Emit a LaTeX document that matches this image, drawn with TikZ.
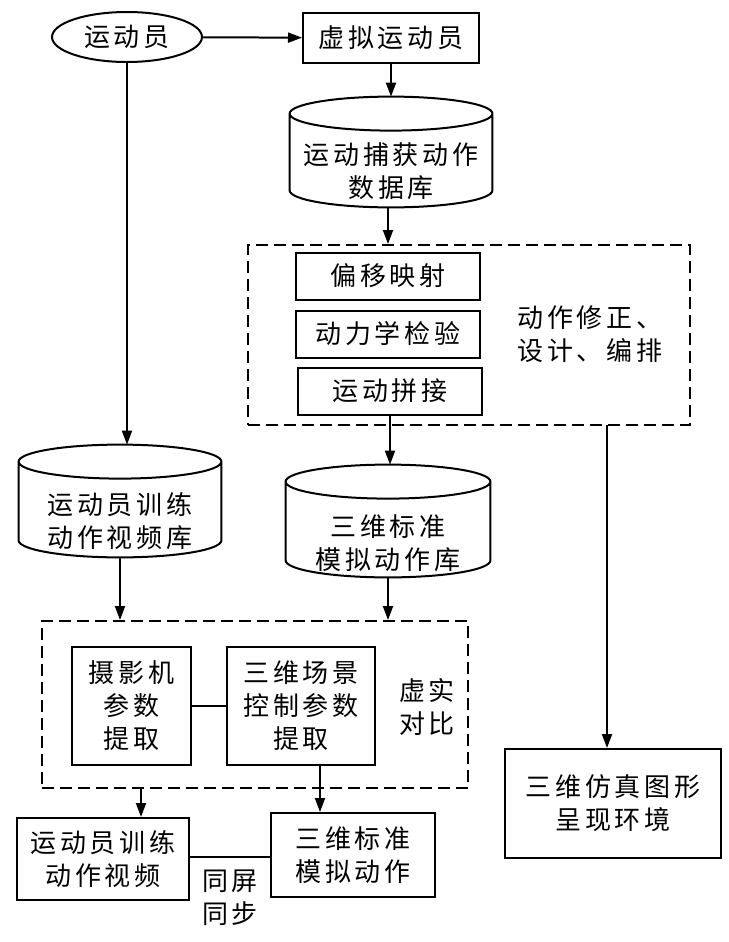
\documentclass[tikz,border=0pt]{standalone}
\usepackage{fontspec}
\setmainfont{Noto Sans CJK SC}[LetterSpace=15]
\usetikzlibrary{positioning,fit,calc,shapes.geometric,arrows.meta}
\tikzset{box/.style={draw, line width=1pt, align=center, inner sep=0pt}}
\tikzset{dbase/.style={rectangle, inner sep=0pt}}
\tikzset{dtext/.style={align=center, inner sep=0pt}}
\tikzset{grp/.style={draw, line width=1pt, dash pattern=on 6pt off 3pt, inner sep=0pt}}
\tikzset{arr/.style={draw, line width=1pt, -{Triangle[length=7pt,width=5pt]}}}
\tikzset{lnk/.style={draw, line width=1pt}}
% cylinder outline inside the bounds of a node
\newcommand{\dbdraw}[1]{%
  \draw[line width=1pt] let \p1=(#1.north west), \p2=(#1.south east), \n1={(\x2-\x1)/2} in
    (\x1,\y1-8.5pt) -- (\x1,\y2+8.5pt)
    arc[start angle=180, end angle=360, x radius={\n1*1pt}, y radius=8.5pt]
    -- (\x2,\y1-8.5pt)
    arc[start angle=0, end angle=360, x radius={\n1*1pt}, y radius=8.5pt];}
\begin{document}
\begin{tikzpicture}[x=0.5pt, y=-0.5pt, font=\fontsize{13pt}{16.5pt}\selectfont]
	\useasboundingbox (0,0) rectangle (728,942);
	% top
	\node[box, ellipse, minimum width=75pt, minimum height=25pt] (ath) at (127,37) {运动员};
	\node[box, minimum width=88pt, minimum height=25pt] (virt) at (391,38) {虚拟运动员};
	\node[dbase, minimum width=101pt, minimum height=55pt] (mocap) at (391,152) {};
	\dbdraw{mocap}
	\node[dtext] (mocapT) at ($(mocap.center)+(0,19)$) {运动捕获动作\\数据库};
	%
	\node[grp, minimum width=221pt, minimum height=90pt] (edit) at (469,335) {};
	\node[box, minimum width=92pt, minimum height=23.5pt] (offs) at (388,276) {偏移映射};
	\node[box, minimum width=92pt, minimum height=23.5pt] (dyn) at (388,334) {动力学检验};
	\node[box, minimum width=92pt, minimum height=23.5pt] (splice) at (390,391) {运动拼接};
	\node[dtext, align=left] (editL) at (590,334) {动作修正、\\设计、编排};
	%
	\node[dbase, minimum width=101pt, minimum height=56pt] (vidb) at (120,501) {};
	\dbdraw{vidb}
	\node[dtext] (vidbT) at ($(vidb.center)+(0,20)$) {运动员训练\\动作视频库};
	\node[dbase, minimum width=102pt, minimum height=56pt] (stdb) at (388,521) {};
	\dbdraw{stdb}
	\node[dtext] (stdbT) at ($(stdb.center)+(0,22)$) {三维标准\\模拟动作库};
	%
	\node[grp, minimum width=213pt, minimum height=83.5pt] (cmp) at (255,704.5) {};
	\node[box, minimum width=59.5pt, minimum height=59pt] (cam) at (131.5,706) {摄影机\\参数\\提取};
	\node[box, minimum width=74pt, minimum height=59pt] (scene) at (301,706) {三维场景\\控制参数\\提取};
	\node[dtext] (cmpL) at (427,707) {虚实\\对比};
	%
	\node[box, minimum width=86pt, minimum height=41pt] (video) at (103,859) {运动员训练\\动作视频};
	\node[box, minimum width=82pt, minimum height=42pt] (stdm) at (353,855) {三维标准\\模拟动作};
	\node[dtext] (syncL) at (230,898) {同屏\\同步};
	\node[box, minimum width=108pt, minimum height=54.5pt] (render) at (613,803.5) {三维仿真图形\\呈现环境};
	%
	\coordinate (editB) at (607,425);
	\coordinate (cmpB) at (141,788);
	\coordinate (sceneB) at (320,765);
	%
	\draw[arr] (ath) -- (virt);
	\draw[arr] (virt) -- (virt.south |- mocap.north);
	\draw[arr] (mocap.south -| 388,0) -- (edit.north -| 388,0);
	\draw[arr] (ath.south) -- (ath.south |- vidb.north);
	\draw[arr] (splice.south) -- (splice.south |- stdb.north);
	\draw[arr] (editB) -- (editB |- render.north);
	\draw[arr] (vidb.south) -- (vidb.south |- cmp.north);
	\draw[arr] (stdb.south) -- (stdb.south |- cmp.north);
	\draw[lnk] (cam) -- (scene);
	\draw[arr] (cmpB) -- (cmpB |- video.north);
	\draw[arr] (sceneB) -- (sceneB |- stdm.north);
	\draw[lnk] (video.east |- 0,857) -- (stdm.west |- 0,857);
\end{tikzpicture}
\end{document}
